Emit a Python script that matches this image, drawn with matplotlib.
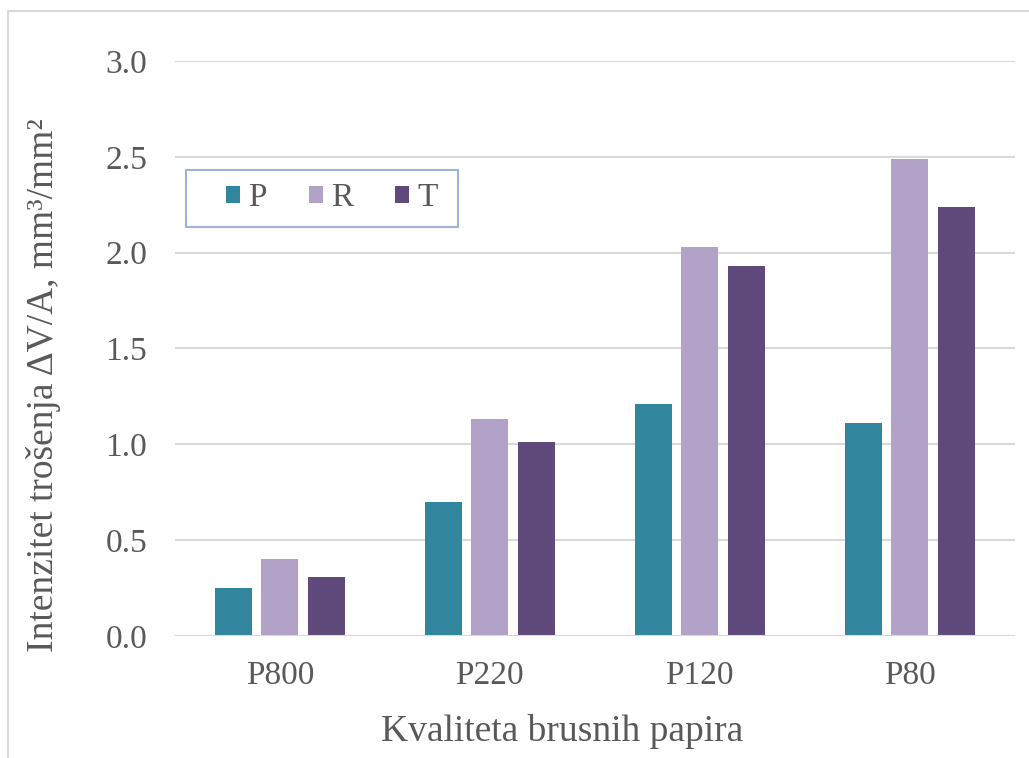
import matplotlib
matplotlib.use("Agg")
import matplotlib.pyplot as plt
import matplotlib.lines as mlines
import matplotlib.patches as mpatches
import numpy as np

categories = ["P800", "P220", "P120", "P80"]
series_names = ["P", "R", "T"]
vals_P = [0.25, 0.70, 1.21, 1.11]
vals_R = [0.40, 1.13, 2.03, 2.49]
vals_T = [0.31, 1.01, 1.93, 2.24]
yticks = [0.0, 0.5, 1.0, 1.5, 2.0, 2.5, 3.0]

colors = ["#31859c", "#b3a2c7", "#604a7b"]
txt = "#595959"
grid = "#d9d9d9"

plt.rcParams['font.family'] = ['Liberation Serif', 'DejaVu Serif']

fig = plt.figure(figsize=(10.29, 7.58), dpi=100)
ax = fig.add_axes([0.170, 0.161, 0.816, 0.7585])

x = np.arange(len(categories))
width = 0.176
offs = 0.222
for i, (name, vals) in enumerate(zip(series_names, [vals_P, vals_R, vals_T])):
    ax.bar(x + (i - 1) * offs, vals, width=width, color=colors[i], label=name,
           zorder=3)

ax.set_xlim(-0.5, 3.5)
ax.set_ylim(0, 3.0)
ax.set_yticks(yticks)
ax.set_yticklabels([f"{t:.1f}" for t in yticks])
ax.set_xticks(x)
ax.set_xticklabels(categories)
ax.tick_params(axis='both', length=0, labelsize=24, colors=txt)
ax.tick_params(axis='y', pad=20)
ax.tick_params(axis='x', pad=18)
ax.yaxis.grid(True, color=grid, linewidth=1.5, zorder=0)
for s in ax.spines.values():
    s.set_visible(False)
ax.axhline(0, color=grid, linewidth=1.5, zorder=4)

ax.set_xlabel("Kvaliteta brusnih papira", fontsize=27, color=txt, labelpad=16)
ax.set_ylabel("Intenzitet trošenja ΔV/A, mm³/mm²", fontsize=27, color=txt,
              labelpad=32)
ax.xaxis.label.set_x((562 - 175) / 840)
ax.yaxis.label.set_y((636 - 385) / 575)

leg = ax.legend(loc='center left', bbox_to_anchor=((226 - 175) / 840, (636 - 198) / 575),
                ncol=3, fontsize=24, frameon=False,
                handlelength=0.42, handleheight=0.42, handletextpad=0.24,
                columnspacing=1.27, borderpad=0, borderaxespad=0)
for t in leg.get_texts():
    t.set_color(txt)
ax.add_patch(mpatches.Rectangle(((186 - 175) / 840, (636 - 227) / 575),
                                272 / 840, 57 / 575, transform=ax.transAxes,
                                facecolor="white", edgecolor="#9ab5d9",
                                linewidth=1.5, zorder=5))
leg.set_zorder(6)

# chart area border (left and top visible)
fig.add_artist(mlines.Line2D([8 / 1029, 8 / 1029], [0, 1 - 11 / 758],
                             color=grid, linewidth=1.5))
fig.add_artist(mlines.Line2D([8 / 1029, 1], [1 - 11 / 758, 1 - 11 / 758],
                             color=grid, linewidth=1.5))

fig.savefig("out.png", dpi=100)
